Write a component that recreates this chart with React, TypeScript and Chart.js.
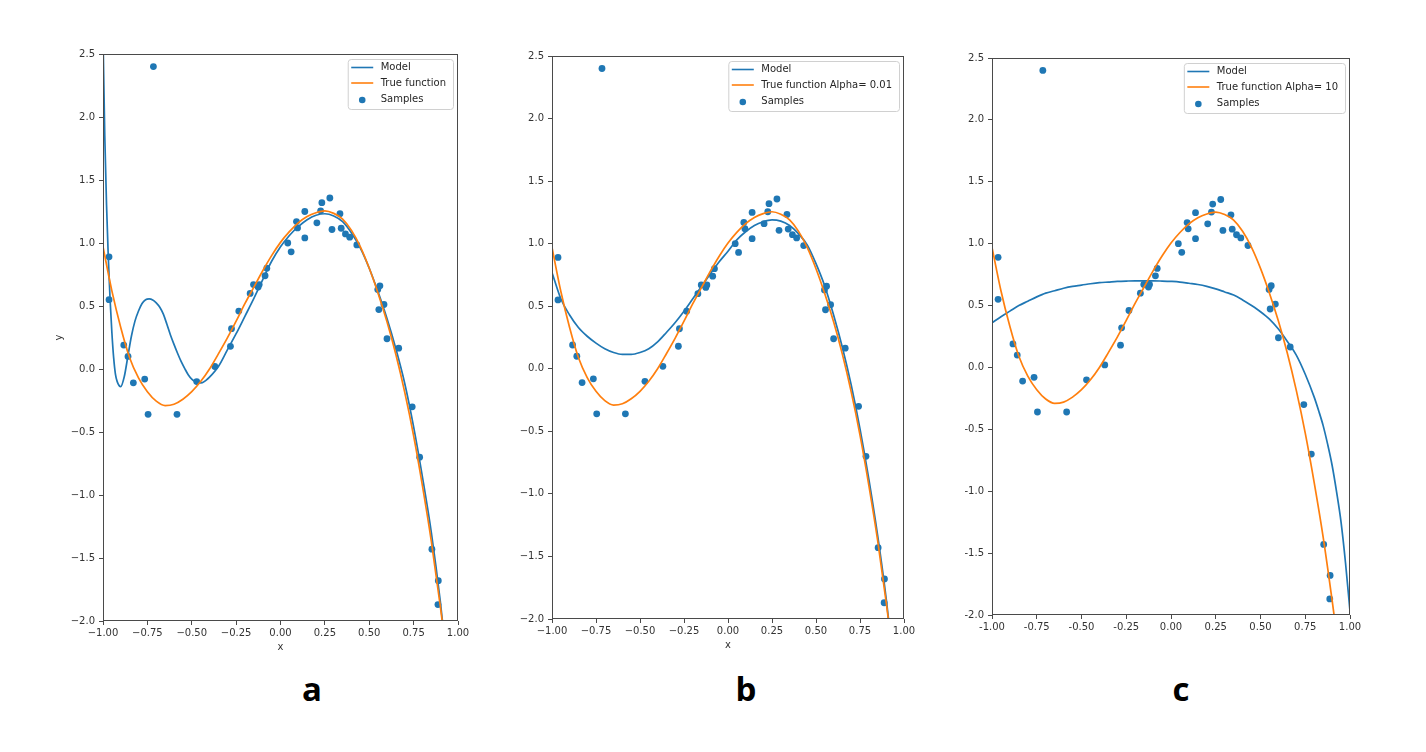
import React, { useEffect, useRef } from "react";
import { Chart, registerables } from "chart.js";

Chart.register(...registerables);

// ---------- data ----------
const sampleX = [-0.716, -0.966, -0.966, -0.883, -0.859, -0.829, -0.765, -0.746, -0.583, -0.472, -0.37, -0.282, -0.276, -0.235, -0.171, -0.152, -0.126, -0.12, -0.087, -0.077, 0.041, 0.06, 0.09, 0.096, 0.137, 0.137, 0.205, 0.226, 0.233, 0.278, 0.29, 0.335, 0.342, 0.366, 0.39, 0.43, 0.548, 0.56, 0.554, 0.583, 0.6, 0.666, 0.742, 0.784, 0.853, 0.889, 0.887];
const sampleY = [2.4, 0.89, 0.55, 0.19, 0.1, -0.11, -0.08, -0.36, -0.36, -0.1, 0.02, 0.18, 0.32, 0.46, 0.6, 0.67, 0.65, 0.67, 0.74, 0.8, 1.0, 0.93, 1.17, 1.12, 1.25, 1.04, 1.16, 1.255, 1.32, 1.357, 1.107, 1.233, 1.117, 1.072, 1.046, 0.985, 0.63, 0.66, 0.472, 0.512, 0.24, 0.165, -0.3, -0.7, -1.43, -1.68, -1.87];

const trueX = [-1.0, -0.95, -0.9, -0.85, -0.8, -0.75, -0.7, -0.65, -0.6, -0.55, -0.5, -0.45, -0.4, -0.35, -0.3, -0.25, -0.2, -0.15, -0.1, -0.05, 0.0, 0.05, 0.1, 0.15, 0.2, 0.25, 0.3, 0.35, 0.4, 0.45, 0.5, 0.55, 0.6, 0.65, 0.7, 0.75, 0.8, 0.85, 0.9, 0.92];
const trueY = [0.97, 0.62, 0.33, 0.09, -0.07, -0.18, -0.255, -0.29, -0.28, -0.24, -0.18, -0.1, 0.0, 0.12, 0.245, 0.38, 0.52, 0.65, 0.78, 0.9, 1.005, 1.09, 1.16, 1.21, 1.24, 1.255, 1.235, 1.19, 1.1, 0.97, 0.8, 0.6, 0.375, 0.115, -0.185, -0.53, -0.93, -1.37, -1.88, -2.1];

const modelAX = [-1.0, -0.99, -0.98, -0.97, -0.96, -0.95, -0.94, -0.93, -0.92, -0.9, -0.88, -0.86, -0.84, -0.82, -0.8, -0.78, -0.76, -0.74, -0.72, -0.7, -0.68, -0.66, -0.64, -0.62, -0.6, -0.58, -0.56, -0.54, -0.52, -0.5, -0.48, -0.46, -0.44, -0.42, -0.4, -0.35, -0.3, -0.25, -0.2, -0.15, -0.1, -0.05, 0.0, 0.05, 0.1, 0.15, 0.2, 0.25, 0.3, 0.35, 0.4, 0.45, 0.5, 0.55, 0.6, 0.65, 0.7, 0.75, 0.8, 0.85, 0.9, 0.92];
const modelAY = [2.65, 1.85, 1.3, 0.88, 0.55, 0.29, 0.09, -0.04, -0.1, -0.14, -0.06, 0.1, 0.26, 0.38, 0.46, 0.52, 0.55, 0.556, 0.548, 0.525, 0.49, 0.435, 0.355, 0.27, 0.195, 0.125, 0.06, 0.005, -0.045, -0.08, -0.1, -0.11, -0.108, -0.09, -0.065, 0.02, 0.15, 0.28, 0.42, 0.56, 0.71, 0.855, 0.97, 1.06, 1.13, 1.185, 1.22, 1.232, 1.215, 1.17, 1.08, 0.96, 0.8, 0.61, 0.4, 0.16, -0.115, -0.46, -0.86, -1.3, -1.84, -2.1];

const modelBX = [-1.0, -0.95, -0.9, -0.85, -0.8, -0.75, -0.7, -0.65, -0.6, -0.55, -0.5, -0.45, -0.4, -0.35, -0.3, -0.25, -0.2, -0.15, -0.1, -0.05, 0.0, 0.05, 0.1, 0.15, 0.2, 0.25, 0.3, 0.35, 0.4, 0.45, 0.5, 0.55, 0.6, 0.65, 0.7, 0.75, 0.8, 0.85, 0.9, 0.92];
const modelBY = [0.77, 0.56, 0.43, 0.33, 0.26, 0.205, 0.16, 0.13, 0.115, 0.115, 0.13, 0.16, 0.215, 0.29, 0.37, 0.46, 0.56, 0.66, 0.76, 0.855, 0.94, 1.03, 1.095, 1.145, 1.175, 1.19, 1.18, 1.145, 1.08, 0.99, 0.84, 0.66, 0.43, 0.17, -0.13, -0.48, -0.88, -1.33, -1.85, -2.1];

const modelCX = [-1.0, -0.95, -0.9, -0.85, -0.8, -0.75, -0.7, -0.65, -0.6, -0.55, -0.5, -0.45, -0.4, -0.35, -0.3, -0.25, -0.2, -0.15, -0.1, -0.05, 0.0, 0.05, 0.1, 0.15, 0.2, 0.25, 0.3, 0.35, 0.4, 0.45, 0.5, 0.55, 0.6, 0.65, 0.7, 0.75, 0.8, 0.825, 0.85, 0.875, 0.9, 0.925, 0.95, 0.975, 1.0];
const modelCY = [0.36, 0.41, 0.455, 0.5, 0.535, 0.57, 0.6, 0.62, 0.64, 0.655, 0.665, 0.676, 0.685, 0.69, 0.695, 0.698, 0.7, 0.7, 0.7, 0.698, 0.695, 0.69, 0.68, 0.67, 0.655, 0.635, 0.61, 0.585, 0.545, 0.5, 0.45, 0.39, 0.31, 0.21, 0.1, -0.055, -0.24, -0.35, -0.47, -0.62, -0.79, -1.005, -1.25, -1.58, -1.97];

const xTickValues = [-1.0, -0.75, -0.5, -0.25, 0.0, 0.25, 0.5, 0.75, 1.0];
const yTickValues = [-2.0, -1.5, -1.0, -0.5, 0.0, 0.5, 1.0, 1.5, 2.0, 2.5];

const panelLetters = ["a", "b", "c"];
const trueLabels = ["True function", "True function Alpha= 0.01", "True function Alpha= 10"];
const modelLabel = "Model";
const samplesLabel = "Samples";

const BLUE = "#1f77b4";
const ORANGE = "#ff7f0e";
const FONT = '"DejaVu Sans", sans-serif';

type PanelCfg = {
  modelX: number[];
  modelY: number[];
  trueLabel: string;
  plot: { l: number; t: number; r: number; b: number };
  xTitle: boolean;
  yTitle: boolean;
  minus: string;
};

const pts = (xs: number[], ys: number[]) => xs.map((x, i) => ({ x, y: ys[i] }));

const framePlugin = {
  id: "frame",
  afterDatasetsDraw(chart: any) {
    const { ctx, chartArea: ca } = chart;
    ctx.save();
    ctx.strokeStyle = "#4a4a4a";
    ctx.lineWidth = 1;
    ctx.strokeRect(Math.round(ca.left) + 0.5, Math.round(ca.top) + 0.5, Math.round(ca.right - ca.left) - 1, Math.round(ca.bottom - ca.top) - 1);
    ctx.restore();
  },
};

const legendPlugin = {
  id: "mplLegend",
  afterDraw(chart: any) {
    const { ctx, chartArea: ca } = chart;
    const ds = chart.data.datasets;
    ctx.save();
    ctx.font = `10px ${FONT}`;
    const labels = ds.map((d: any) => d.label);
    const textW = Math.max(...labels.map((l: string) => ctx.measureText(l).width));
    const boxW = 33 + textW + 7;
    const boxH = 50;
    const bx = ca.right - 5 - boxW;
    const by = ca.top + 5;
    ctx.beginPath();
    if ((ctx as any).roundRect) (ctx as any).roundRect(bx + 0.5, by + 0.5, boxW, boxH, 3);
    else ctx.rect(bx + 0.5, by + 0.5, boxW, boxH);
    ctx.fillStyle = "rgba(255,255,255,0.85)";
    ctx.fill();
    ctx.strokeStyle = "#d0d0d0";
    ctx.lineWidth = 1;
    ctx.stroke();
    const rows = [8.5, 24, 40];
    ds.forEach((d: any, i: number) => {
      const y = by + rows[i];
      if (d.showLine) {
        ctx.beginPath();
        ctx.moveTo(bx + 3.5, y);
        ctx.lineTo(bx + 25.5, y);
        ctx.strokeStyle = d.borderColor;
        ctx.lineWidth = 1.6;
        ctx.stroke();
      } else {
        ctx.beginPath();
        ctx.arc(bx + 14.5, y + 1, 3.3, 0, Math.PI * 2);
        ctx.fillStyle = d.backgroundColor;
        ctx.fill();
      }
      ctx.fillStyle = "#262626";
      ctx.textBaseline = "middle";
      ctx.textAlign = "left";
      ctx.fillText(d.label, bx + 33, y);
    });
    ctx.restore();
  },
};

const Y_W = 50;
const PAD_T = 10;
const PAD_R = 20;
const X_H = 32;

function Panel({ cfg }: { cfg: PanelCfg }) {
  const ref = useRef<HTMLCanvasElement | null>(null);
  const { l, t, r, b } = cfg.plot;
  const w = Y_W + (r - l) + PAD_R;
  const h = PAD_T + (b - t) + X_H;

  useEffect(() => {
    if (!ref.current) return;
    const fmt = (v: number, d: number) => {
      const s = Number(v).toFixed(d);
      return s.startsWith("-") ? cfg.minus + s.slice(1) : s;
    };
    const chart = new Chart(ref.current, {
      type: "scatter",
      data: {
        datasets: [
          {
            label: modelLabel,
            data: pts(cfg.modelX, cfg.modelY),
            showLine: true,
            borderColor: BLUE,
            backgroundColor: BLUE,
            borderWidth: 1.7,
            pointRadius: 0,
            cubicInterpolationMode: "monotone",
            order: 1,
          },
          {
            label: cfg.trueLabel,
            data: pts(trueX, trueY),
            showLine: true,
            borderColor: ORANGE,
            backgroundColor: ORANGE,
            borderWidth: 1.7,
            pointRadius: 0,
            cubicInterpolationMode: "monotone",
            order: 0,
          },
          {
            label: samplesLabel,
            data: pts(sampleX, sampleY),
            showLine: false,
            backgroundColor: BLUE,
            borderWidth: 0,
            pointRadius: 3.4,
            order: 2,
          },
        ] as any,
      },
      options: {
        responsive: false,
        animation: false,
        events: [],
        layout: { padding: { left: 0, top: PAD_T, right: PAD_R, bottom: 0 } },
        plugins: { legend: { display: false }, tooltip: { enabled: false } },
        scales: {
          x: {
            type: "linear",
            min: -1,
            max: 1,
            afterBuildTicks: (s: any) => {
              s.ticks = xTickValues.map((v) => ({ value: v }));
            },
            afterFit: (s: any) => {
              s.height = X_H;
            },
            border: { display: false },
            grid: { display: true, drawOnChartArea: false, drawTicks: true, tickLength: 4, color: "#4a4a4a" },
            ticks: {
              padding: 2,
              maxRotation: 0,
              autoSkip: false,
              color: "#333",
              font: { family: FONT, size: 10 },
              callback: (v: any) => fmt(v, 2),
            },
            title: {
              display: cfg.xTitle,
              text: "x",
              color: "#333",
              font: { family: FONT, size: 10 },
              padding: 0,
            },
          },
          y: {
            type: "linear",
            min: -2,
            max: 2.5,
            afterBuildTicks: (s: any) => {
              s.ticks = yTickValues.map((v) => ({ value: v }));
            },
            afterFit: (s: any) => {
              s.width = Y_W;
            },
            border: { display: false },
            grid: { display: true, drawOnChartArea: false, drawTicks: true, tickLength: 4, color: "#4a4a4a" },
            ticks: {
              padding: 4,
              autoSkip: false,
              color: "#333",
              font: { family: FONT, size: 10 },
              callback: (v: any) => fmt(v, 1),
            },
            title: {
              display: cfg.yTitle,
              text: "y",
              color: "#333",
              font: { family: FONT, size: 10 },
              padding: 0,
            },
          },
        },
      } as any,
      plugins: [framePlugin, legendPlugin],
    });
    return () => chart.destroy();
  }, []);

  return (
    <div style={{ position: "absolute", left: l - Y_W, top: t - PAD_T, width: w, height: h }}>
      <canvas ref={ref} width={w} height={h} style={{ width: w, height: h, display: "block" }} />
    </div>
  );
}

const panels: PanelCfg[] = [
  { modelX: modelAX, modelY: modelAY, trueLabel: trueLabels[0], plot: { l: 103, t: 54, r: 458, b: 621 }, xTitle: true, yTitle: true, minus: "\u2212" },
  { modelX: modelBX, modelY: modelBY, trueLabel: trueLabels[1], plot: { l: 552, t: 56, r: 904, b: 619 }, xTitle: true, yTitle: false, minus: "\u2212" },
  { modelX: modelCX, modelY: modelCY, trueLabel: trueLabels[2], plot: { l: 992, t: 58, r: 1350, b: 615 }, xTitle: false, yTitle: false, minus: "-" },
];

const letterCenters = [312, 746, 1181];

export default function App() {
  return (
    <div style={{ position: "absolute", left: 0, top: 0, width: 1426, height: 752, background: "#ffffff", overflow: "hidden" }}>
      {panels.map((p, i) => (
        <Panel key={i} cfg={p} />
      ))}
      {panelLetters.map((ch, i) => (
        <div
          key={ch}
          style={{
            position: "absolute",
            left: letterCenters[i] - 30,
            width: 60,
            top: 672,
            textAlign: "center",
            fontFamily: '"Open Sans", sans-serif',
            fontWeight: 700,
            fontSize: 33,
            lineHeight: "33px",
            color: "#000",
          }}
        >
          {ch}
        </div>
      ))}
    </div>
  );
}
